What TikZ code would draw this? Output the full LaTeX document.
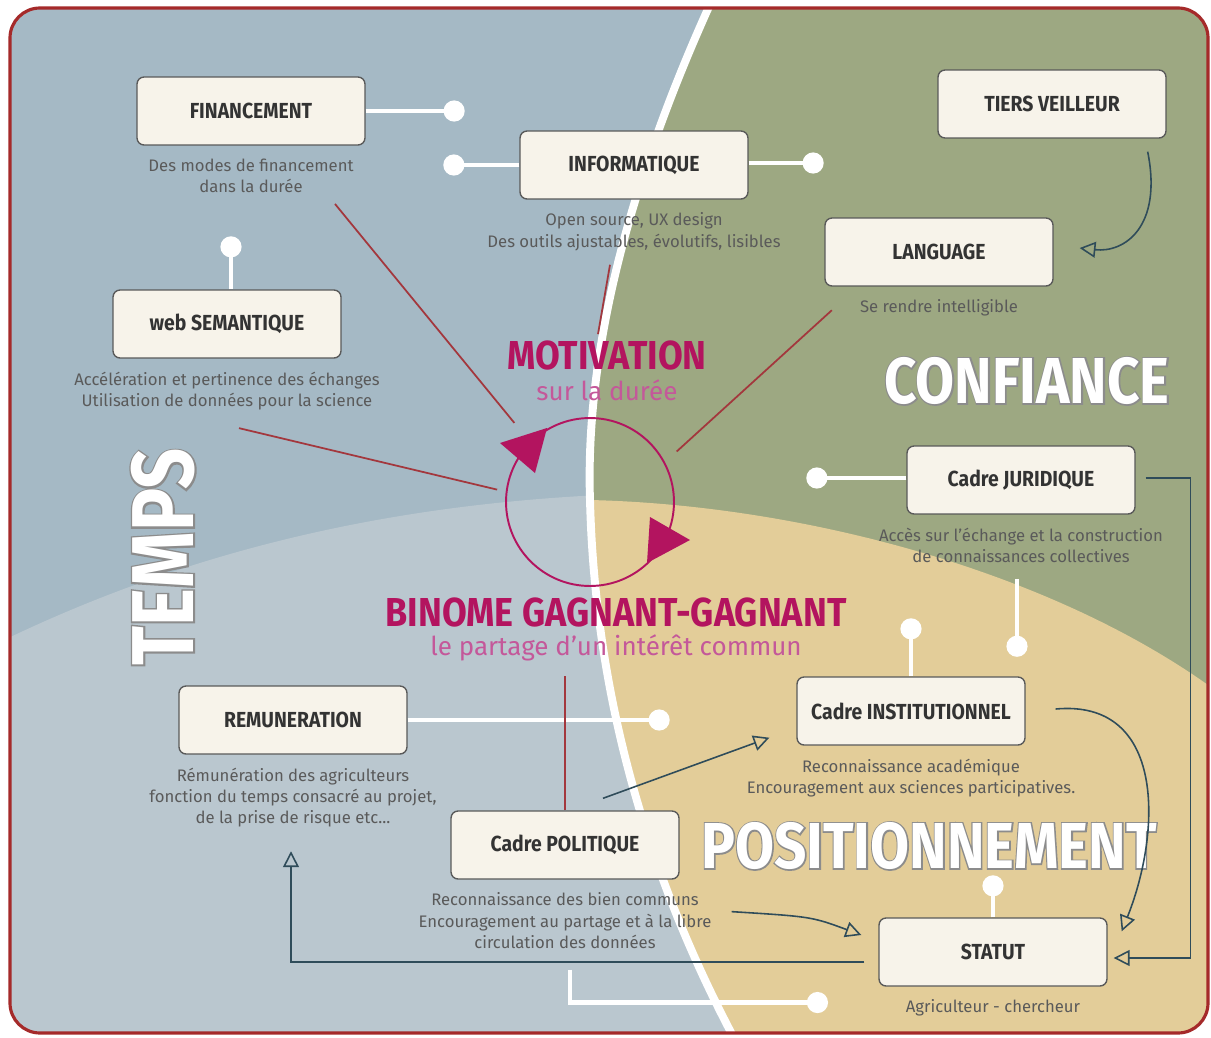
\documentclass[tikz,border=0pt]{standalone}
\usepackage{fontspec}
\setmainfont{Fira Sans}
\newfontfamily\headfont[FakeStretch=0.89]{Fira Sans}
\newfontfamily\bigfont[FakeStretch=0.87]{Fira Sans}
\newfontfamily\bigrimfont[FakeStretch=0.87, FakeBold=4]{Fira Sans}
\newfontfamily\tempsfont[FakeStretch=0.82]{Fira Sans}
\newfontfamily\tempsrimfont[FakeStretch=0.82, FakeBold=4]{Fira Sans}
\usetikzlibrary{arrows.meta,calc,positioning}
\definecolor{skyblue}{HTML}{A5B9C5}
\definecolor{paleblue}{HTML}{BAC7CF}
\definecolor{sage}{HTML}{9DA882}
\definecolor{sand}{HTML}{E3CD99}
\definecolor{framered}{HTML}{A52A2A}
\definecolor{wine}{HTML}{A3373D}
\definecolor{berry}{HTML}{B3145F}
\definecolor{berrylight}{HTML}{C4589A}
\definecolor{cream}{HTML}{F7F3EA}
\definecolor{slate}{HTML}{2F4C5A}
\definecolor{inkgrey}{HTML}{5A5A5A}

\tikzset{
  box/.style={draw=inkgrey, line width=0.8pt, fill=cream, rounded corners=4pt,
    minimum width=4.56cm, minimum height=1.36cm, text=black!80,
    font=\headfont\bfseries\fontsize{12.4}{14}\selectfont},
  desc/.style={align=center, text=inkgrey, font=\fontsize{9.5}{12}\selectfont},
  wire/.style={white, line width=2.8pt, -{Circle[length=12pt]}},
  redline/.style={wine, line width=1pt},
  arr/.style={slate, line width=0.9pt, -{Triangle[open, length=9pt, width=9pt]}},
  bigword/.style={text=white, font=\bigfont\bfseries\fontsize{37}{40}\selectfont},
  bigrim/.style={text=black!45, font=\bigrimfont\bfseries\fontsize{37}{40}\selectfont},
  tempsword/.style={rotate=90, text=white, font=\tempsfont\bfseries\fontsize{50}{52}\selectfont},
  tempsrim/.style={rotate=90, text=black!45, font=\tempsrimfont\bfseries\fontsize{50}{52}\selectfont},
  headline/.style={text=berry, font=\headfont\bfseries\fontsize{23}{26}\selectfont},
  subline/.style={text=berrylight, font=\fontsize{14.8}{17}\selectfont},
}

\begin{document}
\begin{tikzpicture}[x=0.02cm, y=-0.02cm]
  \useasboundingbox (0,0) rectangle (1211,1038);
  \fill[white] (0,0) rectangle (1211,1038);
  % Background zones
  \begin{scope}
    \clip[rounded corners=0.6cm] (10,8) rectangle (1208,1033);
    \fill[skyblue] (0,0) rectangle (1211,1038);
    \fill[paleblue] (0,642) .. controls (200,545) and (400,505) .. (600,495) -- (800,495) -- (800,1040) -- (0,1040) -- cycle;
    \fill[sage] (712,0) .. controls (630,180) and (585,350) .. (590,500)
      .. controls (595,700) and (650,880) .. (735,1040) -- (1215,1040) -- (1215,0) -- cycle;
    \fill[sand] (590,500) .. controls (800,505) and (1050,570) .. (1215,690) -- (1215,1040) -- (735,1040)
      .. controls (650,880) and (595,700) .. (590,500) -- cycle;
    \draw[white, line width=4.5pt] (712,0) .. controls (630,180) and (585,350) .. (590,500)
      .. controls (595,700) and (650,880) .. (735,1040);
  \end{scope}
  \draw[framered, line width=1.8pt, rounded corners=0.6cm] (10,8) rectangle (1208,1033);

  % Big words
  \node[bigrim] (confrim) at (1027,381) {CONFIANCE};
  \node[bigword] (conf) at (1027,381) {CONFIANCE};
  \node[bigrim] (positrim) at (929,846) {POSITIONNEMENT};
  \node[bigword] (posit) at (929,846) {POSITIONNEMENT};
  \node[tempsrim] (tempsrim) at (163,557) {TEMPS};
  \node[tempsword] (temps) at (163,557) {TEMPS};

  % Boxes
  \node[box] (fin) at (251,111) {FINANCEMENT};
  \node[box] (info) at (634,165) {INFORMATIQUE};
  \node[box] (tiers) at (1052,104) {TIERS VEILLEUR};
  \node[box] (lang) at (939,252) {LANGUAGE};
  \node[box] (sem) at (227,324) {web SEMANTIQUE};
  \node[box] (jur) at (1021,480) {Cadre JURIDIQUE};
  \node[box] (inst) at (911,711) {Cadre INSTITUTIONNEL};
  \node[box] (rem) at (293,720) {REMUNERATION};
  \node[box] (pol) at (565,845) {Cadre POLITIQUE};
  \node[box] (stat) at (993,952) {STATUT};

  % Descriptions
  \node[desc, below=4pt of fin] (findesc) {Des modes de financement\\dans la durée};
  \node[desc, below=4pt of info] (infodesc) {Open source, UX design\\Des outils ajustables, évolutifs, lisibles};
  \node[desc, below=4pt of lang] (langdesc) {Se rendre intelligible};
  \node[desc, below=4pt of sem] (semdesc) {Accélération et pertinence des échanges\\Utilisation de données pour la science};
  \node[desc, below=4pt of jur] (jurdesc) {Accès sur l'échange et la construction\\de connaissances collectives};
  \node[desc, below=4pt of inst] (instdesc) {Reconnaissance académique\\Encouragement aux sciences participatives.};
  \node[desc, below=4pt of rem] (remdesc) {Rémunération des agriculteurs\\fonction du temps consacré au projet,\\de la prise de risque etc...};
  \node[desc, below=4pt of pol] (poldesc) {Reconnaissance des bien communs\\Encouragement au partage et à la libre\\circulation des données};
  \node[desc, below=4pt of stat] (statdesc) {Agriculteur - chercheur};

  % Pins
  \draw[wire] (fin.east) -- ++(99,0);
  \draw[wire] (info.west) -- ++(-76,0);
  \draw[wire] ($(info.east)+(0,-2)$) -- ++(75,0);
  \draw[wire] ($(sem.north)+(4,0)$) -- ++(0,-53);
  \draw[wire] ($(jur.west)+(0,-2)$) -- ++(-100,0);
  \draw[wire] ($(jurdesc.south)+(-4,10)$) -- ++(0,78);
  \draw[wire] (inst.north) -- ++(0,-58);
  \draw[wire] (rem.east) -- ++(262,0);
  \draw[wire] (stat.north) -- ++(0,-42);
  \draw[wire] ($(poldesc.south)+(5,15)$) -- ++(0,33) -- ++(258,0);

  % Cycle
  \node[draw=berry, line width=1.1pt, circle, minimum size=3.36cm] (loop) at (590,502) {};
  \fill[berry] (500,443) -- (547,428) -- (535,473) -- cycle;
  \fill[berry] (650,517) -- (690,540) -- (647,563) -- cycle;
  \node[headline] (motiv) at (607,355) {MOTIVATION};
  \node[subline] (duree) at (607,390) {sur la durée};
  \node[headline] (binome) at (616,612) {BINOME GAGNANT-GAGNANT};
  \node[subline] (partage) at (616,648) {le partage d'un intérêt commun};

  % Links to the cycle
  \draw[redline, shorten >=14pt] ($(findesc.south)+(84,5)$) -- (loop.135);
  \draw[redline, shorten >=5pt] ($(semdesc.south)+(12,12)$) -- (loop.173);
  \draw[redline, shorten >=9pt] ($(langdesc.west)+(-22,2)$) -- (loop.28);
  \draw[redline] ($(infodesc.south)+(-24,8)$) -- ($(motiv.north)+(-9,0)$);
  \draw[redline] (pol.north) -- ++(0,-134);

  % Arrows
  \draw[arr] ($(tiers.south east)+(-19,13)$) .. controls +(15,75) and +(45,5) .. ($(lang.east)+(26,-4)$);
  \draw[arr] ($(jur.east)+(10,-2)$) -- ++(45,0) |- ($(stat.east)+(6,6)$);
  \draw[arr] ($(inst.east)+(30,-2)$) .. controls +(110,-10) and +(40,-100) .. ($(stat.north east)+(14,14)$);
  \draw[arr] ($(pol.north)+(38,-12)$) -- ($(inst.south west)+(-27,-8)$);
  \draw[arr] ($(poldesc.east)+(14,-9)$) .. controls +(80,5) .. ($(stat.west)+(-17,-17)$);
  \draw[arr] ($(stat.west)+(-14,10)$) -| ($(remdesc.south)+(-2,18)$);
\end{tikzpicture}
\end{document}
